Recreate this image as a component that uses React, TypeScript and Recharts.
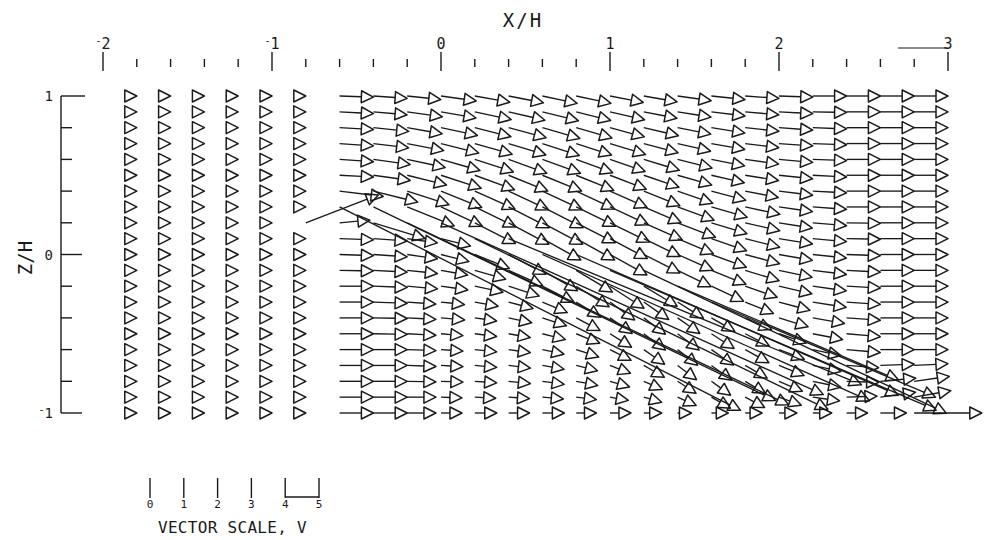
import React from 'react'
import { ScatterChart, Scatter, XAxis, YAxis } from 'recharts'

// grid of measurement stations (tail of each vector)
const xCols = [-1.8, -1.6, -1.4, -1.2, -1.0, -0.8, -0.6, -0.4, -0.2, 0, 0.2, 0.4, 0.6, 0.8, 1.0, 1.2, 1.4, 1.6, 1.8, 2.0, 2.2, 2.4, 2.6, 2.8]
const zRows = [1.0, 0.9, 0.8, 0.7, 0.6, 0.5, 0.4, 0.3, 0.2, 0.1, 0, -0.1, -0.2, -0.3, -0.4, -0.5, -0.6, -0.7, -0.8, -0.9, -1.0]

// speed V per row (top to bottom), one value per column
const speed = [
  [0, 0, 0, 0, 0, 0, 1.0, 1.0, 1.0, 1.05, 1.05, 1.05, 1.05, 1.05, 1.0, 1.0, 1.0, 1.0, 1.0, 1.0, 1.0, 1.0, 1.0, 1.0],
  [0, 0, 0, 0, 0, 0, 1.0, 1.0, 1.05, 1.05, 1.1, 1.1, 1.1, 1.05, 1.05, 1.0, 1.0, 1.0, 1.0, 1.0, 1.0, 1.0, 1.0, 1.0],
  [0, 0, 0, 0, 0, 0, 1.0, 1.05, 1.05, 1.1, 1.1, 1.15, 1.15, 1.1, 1.05, 1.05, 1.0, 1.0, 1.0, 1.0, 1.0, 1.0, 1.0, 1.0],
  [0, 0, 0, 0, 0, 0, 1.0, 1.05, 1.1, 1.15, 1.15, 1.15, 1.15, 1.1, 1.1, 1.05, 1.0, 1.0, 1.0, 1.0, 1.0, 1.0, 1.0, 1.0],
  [0, 0, 0, 0, 0, 0, 1.0, 1.1, 1.15, 1.2, 1.2, 1.2, 1.2, 1.15, 1.1, 1.1, 1.05, 1.0, 1.0, 1.0, 1.0, 1.0, 1.0, 1.0],
  [0, 0, 0, 0, 0, 0, 1.0, 1.1, 1.2, 1.25, 1.25, 1.25, 1.25, 1.2, 1.15, 1.1, 1.05, 1.0, 1.0, 1.0, 1.0, 1.0, 1.0, 1.0],
  [0, 0, 0, 0, 0, 0, 1.3, 1.35, 1.3, 1.3, 1.3, 1.3, 1.3, 1.25, 1.2, 1.15, 1.1, 1.05, 1.0, 1.0, 1.0, 1.0, 1.0, 1.0],
  [0, 0, 0, 0, 0, 0, 13.3, 13.2, 1.5, 1.35, 1.35, 1.35, 1.35, 1.3, 1.25, 1.2, 1.15, 1.1, 1.05, 1.0, 1.0, 1.0, 1.0, 1.0],
  [0, 0, 0, 0, 0, 2.3, 0.9, 1.6, 12.5, 12.4, 1.35, 1.35, 1.35, 1.3, 1.3, 1.25, 1.2, 1.1, 1.05, 1.0, 1.0, 1.0, 1.0, 1.0],
  [0, 0, 0, 0, 0, 0, 1.0, 1.0, 0.9, 0.9, 11.6, 11.3, 1.3, 1.3, 1.25, 1.2, 1.15, 1.1, 1.05, 1.0, 1.0, 1.0, 1.0, 1.0],
  [0, 0, 0, 0, 0, 0, 1.0, 1.0, 0.9, 0.85, 1.1, 1.25, 10.6, 10.4, 1.25, 1.2, 1.15, 1.1, 1.05, 1.0, 1.0, 1.0, 1.0, 1.0],
  [0, 0, 0, 0, 0, 0, 1.0, 1.0, 0.9, 0.8, 0.95, 1.1, 1.2, 1.25, 10.5, 9.9, 1.1, 1.1, 1.05, 1.0, 1.0, 1.0, 1.0, 1.0],
  [0, 0, 0, 0, 0, 0, 1.0, 1.0, 0.9, 0.8, 0.85, 0.95, 1.05, 1.15, 1.2, 1.15, 7.1, 1.05, 1.0, 1.0, 1.0, 1.0, 1.0, 1.0],
  [0, 0, 0, 0, 0, 0, 1.0, 1.0, 0.85, 0.7, 0.7, 0.75, 0.8, 0.85, 0.9, 0.9, 0.9, 7.2, 0.9, 0.95, 1.0, 1.0, 1.0, 1.0],
  [0, 0, 0, 0, 0, 0, 1.0, 1.0, 0.85, 0.7, 0.65, 0.7, 0.75, 0.8, 0.8, 0.8, 0.8, 0.8, 0.85, 0.9, 0.95, 1.0, 1.0, 1.0],
  [0, 0, 0, 0, 0, 0, 1.0, 1.0, 0.85, 0.65, 0.65, 0.65, 0.7, 0.75, 0.75, 0.8, 0.8, 0.8, 0.8, 0.85, 0.9, 1.0, 1.0, 1.0],
  [0, 0, 0, 0, 0, 0, 1.0, 1.0, 0.85, 0.65, 0.65, 0.65, 0.65, 0.7, 0.7, 0.75, 0.75, 0.8, 0.8, 0.8, 0.85, 1.0, 1.0, 1.0],
  [0, 0, 0, 0, 0, 0, 1.0, 1.0, 0.85, 0.65, 0.65, 0.65, 0.65, 0.65, 0.65, 0.7, 0.7, 0.75, 0.75, 0.8, 0.85, 0.95, 1.0, 1.0],
  [0, 0, 0, 0, 0, 0, 1.0, 1.0, 0.85, 0.65, 0.65, 0.65, 0.65, 0.65, 0.6, 0.6, 0.65, 0.7, 0.7, 0.75, 0.85, 0.95, 1.05, 1.05],
  [0, 0, 0, 0, 0, 0, 1.0, 1.0, 0.85, 0.62, 0.62, 0.62, 0.62, 0.6, 0.55, 0.55, 0.6, 0.65, 0.65, 0.7, 0.8, 0.9, 1.05, 1.1],
  [0, 0, 0, 0, 0, 0, 1.0, 1.0, 0.85, 0.62, 0.65, 0.62, 0.65, 0.6, 0.62, 0.53, 0.41, 0.5, 0.5, 0.53, 0.56, 0.62, 0.77, 2.0],
]

// flow direction in degrees, positive = upward
const angle = [
  [0, 0, 0, 0, 0, 0, -2, -4, -6, -8, -10, -11, -12, -12, -11, -10, -8, -6, -4, -2, 0, 0, 0, 0],
  [0, 0, 0, 0, 0, 0, -3, -5, -8, -10, -12, -13, -14, -14, -13, -11, -9, -7, -5, -3, -1, 0, 0, 0],
  [0, 0, 0, 0, 0, 0, -3, -6, -10, -12, -14, -15, -16, -16, -15, -13, -11, -9, -6, -4, -2, 0, 0, 0],
  [0, 0, 0, 0, 0, 0, -4, -7, -11, -14, -16, -17, -18, -18, -17, -15, -13, -10, -7, -4, -2, 0, 0, 0],
  [0, 0, 0, 0, 0, 0, -4, -8, -12, -16, -18, -20, -20, -20, -19, -17, -14, -11, -8, -5, -2, 0, 0, 0],
  [0, 0, 0, 0, 0, 0, -3, -8, -14, -18, -20, -22, -22, -22, -21, -19, -16, -13, -9, -6, -3, 0, 0, 0],
  [0, 0, 0, 0, 0, 0, -7, -14, -18, -22, -24, -25, -25, -25, -24, -22, -19, -15, -11, -7, -3, 0, 0, 0],
  [0, 0, 0, 0, 0, 0, -26.9, -25.7, -22, -25, -26, -27, -27, -26, -25, -23, -20, -16, -12, -8, -4, 0, 0, 0],
  [0, 0, 0, 0, 0, 21, 5, -17, -25.5, -24.2, -27, -28, -28, -27, -26, -24, -21, -17, -13, -9, -5, -1, 0, 0],
  [0, 0, 0, 0, 0, 0, -2, -4, -8, -14, -25.8, -22.5, -29, -29, -28, -26, -23, -19, -14, -9, -5, -1, 0, 0],
  [0, 0, 0, 0, 0, 0, -2, -4, -8, -14, -22, -28, -24.1, -23.6, -29, -27, -24, -20, -15, -10, -6, -2, 0, 0],
  [0, 0, 0, 0, 0, 0, -1, -3, -6, -10, -16, -24, -30, -31, -23.2, -25.3, -26, -22, -17, -12, -7, -3, 0, 0],
  [0, 0, 0, 0, 0, 0, 0, -2, -5, -8, -12, -18, -27, -32, -33, -31, -23, -25, -19, -13, -8, -3, 0, 0],
  [0, 0, 0, 0, 0, 0, 0, -2, -4, -6, -10, -15, -23, -32, -36, -35, -32, -23, -22, -15, -9, -4, 0, 0],
  [0, 0, 0, 0, 0, 0, 0, -1, -3, -5, -8, -12, -18, -28, -35, -37, -35, -30, -24, -17, -10, -4, 0, 0],
  [0, 0, 0, 0, 0, 0, 0, -1, -3, -5, -7, -10, -14, -22, -32, -37, -37, -33, -27, -19, -11, -5, 0, 0],
  [0, 0, 0, 0, 0, 0, 0, 0, -2, -4, -6, -8, -12, -18, -27, -35, -38, -35, -29, -21, -12, -5, 0, 0],
  [0, 0, 0, 0, 0, 0, 0, 0, -2, -3, -5, -7, -10, -14, -21, -30, -37, -36, -30, -22, -12, -4, 2, 3],
  [0, 0, 0, 0, 0, 0, 0, 0, -1, -2, -4, -6, -8, -11, -16, -24, -33, -36, -31, -23, -12, -2, 5, 8],
  [0, 0, 0, 0, 0, 0, 0, 0, 0, -2, -3, -4, -5, -7, -10, -16, -24, -30, -28, -20, -8, 2, 8, 10],
  [0, 0, 0, 0, 0, 0, 0, 0, 0, 0, 0, 0, 0, 0, 0, 0, 0, 0, 0, 0, 0, 0, 0, 0],
]

const xTicks = [-2, -1.8, -1.6, -1.4, -1.2, -1, -0.8, -0.6, -0.4, -0.2, 0, 0.2, 0.4, 0.6, 0.8, 1, 1.2, 1.4, 1.6, 1.8, 2, 2.2, 2.4, 2.6, 2.8, 3]
const zTicks = [1, 0.8, 0.6, 0.4, 0.2, 0, -0.2, -0.4, -0.6, -0.8, -1]
const scaleTicks = [0, 1, 2, 3, 4, 5]

const WIDTH = 986
const HEIGHT = 540
const MARGIN = { top: 0, right: 38, bottom: 127, left: 0 }
const Y_AXIS_W = 61
const X_AXIS_H = 96
const X_MIN = -2.2485
const X_MAX = 3
const V_UNIT = 0.2 // one unit of V is drawn as 0.2 X/H
const PLOT_W = WIDTH - MARGIN.left - MARGIN.right - Y_AXIS_W
const PX_PER_V = (PLOT_W / (X_MAX - X_MIN)) * V_UNIT

const INK = '#1a1a1a'
const FONT = '"DejaVu Sans Mono", monospace'

const vectors = zRows.flatMap((z, r) =>
  xCols.map((x, c) => ({ x, z, v: speed[r][c], a: angle[r][c] }))
)

const isWhole = (v: number) => Math.abs(v - Math.round(v)) < 1e-6

// label with the small raised minus used by the plotter
const Num = ({ value }: { value: number }) =>
  value < 0 ? (
    <>
      <tspan fontSize={10} dy={-5}>-</tspan>
      <tspan dy={5}>{Math.abs(value)}</tspan>
    </>
  ) : (
    <>{value}</>
  )

const XTick = (props: any) => {
  const { x, y, payload } = props
  const v = payload.value
  const major = isWhole(v)
  return (
    <g>
      {major ? (
        <line x1={x} x2={x} y1={y - 44} y2={y - 25} stroke={INK} strokeWidth={1.4} />
      ) : (
        <line x1={x} x2={x} y1={y - 37} y2={y - 29} stroke={INK} strokeWidth={1.4} />
      )}
      {major && (
        <text x={x} y={y - 47} textAnchor="middle" fontFamily={FONT} fontSize={15} fill={INK}>
          <Num value={v} />
        </text>
      )}
      {v === 3 && <line x1={x - 50} x2={x} y1={y - 48} y2={y - 48} stroke={INK} strokeWidth={1.2} />}
    </g>
  )
}

const ZTick = (props: any) => {
  const { x, y, payload } = props
  const v = payload.value
  const major = isWhole(v)
  return (
    <g>
      <line x1={x} x2={x + (major ? (v === 1 ? 24 : 21) : 11)} y1={y} y2={y} stroke={INK} strokeWidth={1.4} />
      {major && (
        <text x={x - 8} y={y + 5} textAnchor="end" fontFamily={FONT} fontSize={14} fill={INK}>
          <Num value={v} />
        </text>
      )}
    </g>
  )
}

// tail at the station, open triangle at the head
const Arrow = (props: any) => {
  const { cx, cy, payload } = props
  if (cx == null || cy == null) return null
  const rad = (payload.a * Math.PI) / 180
  const len = payload.v * PX_PER_V
  const ux = Math.cos(rad)
  const uy = -Math.sin(rad)
  const hx = cx + ux * len
  const hy = cy + uy * len
  const bx = hx - ux * 12
  const by = hy - uy * 12
  const px = -uy * 6
  const py = ux * 6
  const tri = `M${hx},${hy} L${bx + px},${by + py} L${bx - px},${by - py} Z`
  return (
    <g>
      {len > 12 && <line x1={cx} y1={cy} x2={bx} y2={by} stroke={INK} strokeWidth={1.35} />}
      <path d={tri} fill="none" stroke={INK} strokeWidth={1.5} strokeLinejoin="round" />
    </g>
  )
}

const SCALE_X0 = 150

export default function App() {
  return (
    <div style={{ position: 'absolute', left: 0, top: 0, width: WIDTH, height: HEIGHT, background: '#fff' }}>
      <ScatterChart width={WIDTH} height={HEIGHT} margin={MARGIN}>
        <XAxis
          type="number"
          dataKey="x"
          orientation="top"
          domain={[X_MIN, X_MAX]}
          ticks={xTicks}
          interval={0}
          height={X_AXIS_H}
          axisLine={false}
          tickLine={false}
          tickSize={0}
          tickMargin={0}
          tick={<XTick />}
        />
        <YAxis
          type="number"
          dataKey="z"
          domain={[-1, 1]}
          ticks={zTicks}
          interval={0}
          width={Y_AXIS_W}
          axisLine={{ stroke: INK, strokeWidth: 1.4 }}
          tickLine={false}
          tickSize={0}
          tickMargin={0}
          tick={<ZTick />}
        />
        <Scatter data={vectors} shape={(p: any) => <Arrow {...p} />} isAnimationActive={false} />
      </ScatterChart>
      <svg width={WIDTH} height={HEIGHT} style={{ position: 'absolute', left: 0, top: 0, pointerEvents: 'none' }}>
        <text x={523} y={27} textAnchor="middle" fontFamily={FONT} fontSize={19} letterSpacing={2} fill={INK}>
          X/H
        </text>
        <text
          x={0}
          y={0}
          transform="translate(32,258) rotate(-90)"
          textAnchor="middle"
          fontFamily={FONT}
          fontSize={19}
          fill={INK}
        >
          Z/H
        </text>
        {scaleTicks.map((t) => (
          <g key={t}>
            <line
              x1={SCALE_X0 + t * PX_PER_V}
              x2={SCALE_X0 + t * PX_PER_V}
              y1={478}
              y2={498}
              stroke={INK}
              strokeWidth={1.4}
            />
            <text x={SCALE_X0 + t * PX_PER_V} y={508} textAnchor="middle" fontFamily={FONT} fontSize={11} fill={INK}>
              {t}
            </text>
          </g>
        ))}
        <line
          x1={SCALE_X0 + 4 * PX_PER_V}
          x2={SCALE_X0 + 5 * PX_PER_V}
          y1={497}
          y2={497}
          stroke={INK}
          strokeWidth={1.4}
        />
        <text x={158} y={533} fontFamily={FONT} fontSize={16} letterSpacing={0.3} fill={INK}>
          VECTOR SCALE, V
        </text>
      </svg>
    </div>
  )
}
